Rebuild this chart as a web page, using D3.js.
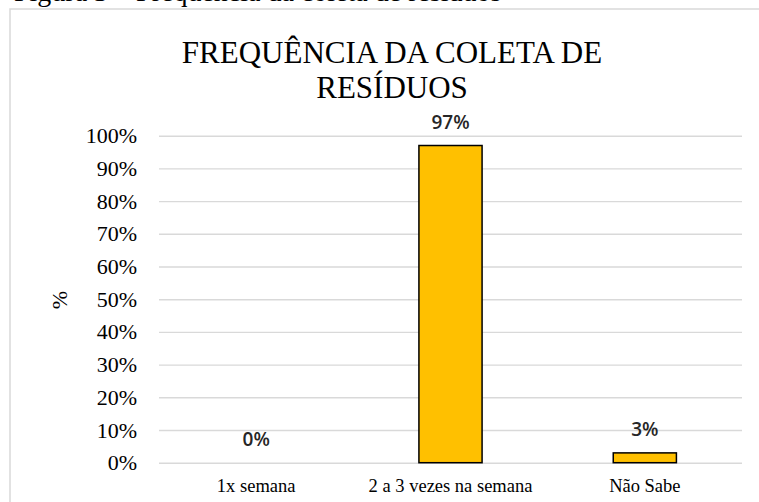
<!DOCTYPE html>
<html>
<head>
<meta charset="utf-8">
<script src="https://cdn.jsdelivr.net/npm/d3@7"></script>
<style>
  body { margin: 0; background: #fff; }
  svg { display: block; }
</style>
</head>
<body>
<script>
const categories = ["1x semana", "2 a 3 vezes na semana", "Não Sabe"];
const values = [0, 0.97, 0.03];
const yTicks = [0, 0.1, 0.2, 0.3, 0.4, 0.5, 0.6, 0.7, 0.8, 0.9, 1];
const titleLines = ["FREQUÊNCIA DA COLETA DE", "RESÍDUOS"];
const caption = "Figura 3 – Frequência da coleta de resíduos";

const W = 759, H = 502;
const serif = "'Liberation Serif', 'Times New Roman', serif";
const margin = { top: 135.7, right: 17, bottom: 39.3, left: 159 },
  width = W - margin.left - margin.right,
  height = H - margin.top - margin.bottom;

const root = d3.select("body").append("svg")
  .attr("width", W)
  .attr("height", H);

// document caption, mostly cut off at the top
root.append("text")
  .attr("x", 14)
  .attr("y", 1)
  .attr("font-family", serif)
  .attr("font-size", 28)
  .text(caption);

// chart frame
root.append("rect")
  .attr("x", 10).attr("y", 9)
  .attr("width", W + 20).attr("height", H + 20)
  .attr("fill", "none")
  .attr("stroke", "#d9d9d9")
  .attr("stroke-width", 1.5);

root.append("text")
  .attr("x", 392)
  .attr("font-family", serif)
  .attr("font-size", 31)
  .attr("text-anchor", "middle")
  .selectAll("tspan")
  .data(titleLines)
  .join("tspan")
  .attr("x", 392)
  .attr("y", (d, i) => 63 + i * 35)
  .text(d => d);

const svg = root.append("g")
  .attr("transform", "translate(" + margin.left + "," + margin.top + ")");

const x = d3.scaleBand()
  .domain(categories)
  .range([0, width])
  .paddingInner(0.675)
  .paddingOuter(0.3375);

const y = d3.scaleLinear()
  .domain([0, 1])
  .range([height, 0]);

const yAxis = svg.append("g")
  .call(d3.axisLeft(y)
    .tickValues(yTicks)
    .tickFormat(d3.format(".0%"))
    .tickSize(-width)
    .tickPadding(22));
yAxis.select(".domain").remove();
yAxis.selectAll(".tick line")
  .attr("stroke", "#d9d9d9")
  .attr("stroke-width", 1.4);
yAxis.selectAll(".tick text")
  .attr("font-family", serif)
  .attr("font-size", 22)
  .attr("fill", "#000");

const xAxis = svg.append("g")
  .attr("transform", "translate(0," + height + ")")
  .call(d3.axisBottom(x).tickSize(0).tickPadding(16));
xAxis.select(".domain").remove();
xAxis.selectAll(".tick text")
  .attr("font-family", serif)
  .attr("font-size", 18.5)
  .attr("fill", "#000");

svg.append("text")
  .attr("transform", "translate(" + (62 - margin.left) + "," + (300 - margin.top) + ") rotate(-90)")
  .attr("text-anchor", "middle")
  .attr("dominant-baseline", "middle")
  .attr("font-family", serif)
  .attr("font-size", 22)
  .text("%");

svg.selectAll(".bar")
  .data(values)
  .join("rect")
  .attr("class", "bar")
  .attr("x", (d, i) => x(categories[i]))
  .attr("y", d => y(d))
  .attr("width", x.bandwidth())
  .attr("height", d => height - y(d))
  .attr("fill", "#ffc000")
  .attr("stroke", "#000")
  .attr("stroke-width", 1.5);

svg.selectAll(".label")
  .data(values)
  .join("text")
  .attr("class", "label")
  .attr("x", (d, i) => x(categories[i]) + x.bandwidth() / 2)
  .attr("y", d => y(d) - 16.5)
  .attr("text-anchor", "middle")
  .attr("font-family", "'Open Sans', sans-serif")
  .attr("font-weight", 600)
  .attr("font-size", 19)
  .attr("fill", "#262626")
  .text(d => d3.format(".0%")(d));
</script>
</body>
</html>
